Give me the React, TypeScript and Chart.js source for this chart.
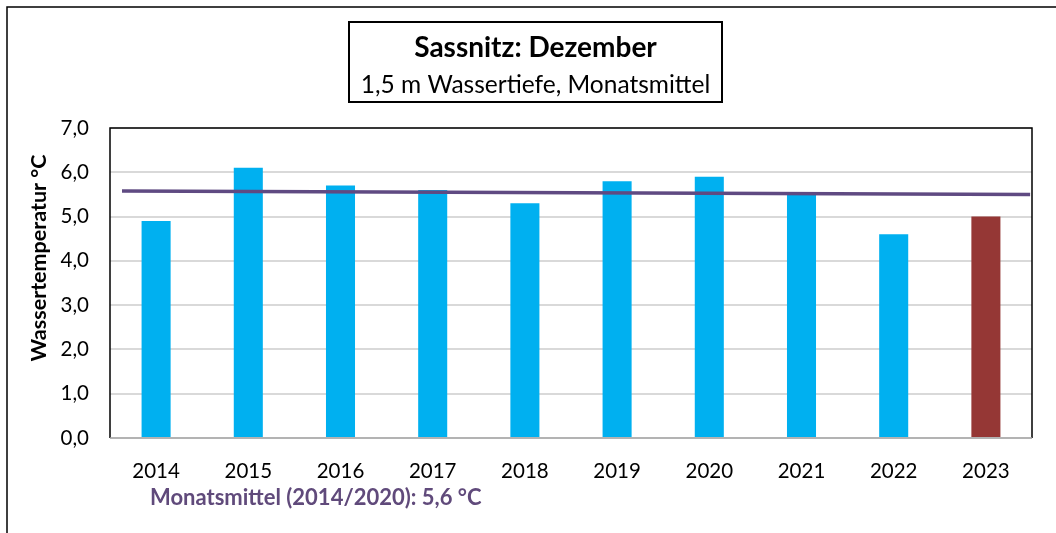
import React, { useEffect, useRef } from "react";
import { Chart, registerables } from "chart.js";

Chart.register(...registerables);

// ---- data ----
const years = ["2014", "2015", "2016", "2017", "2018", "2019", "2020", "2021", "2022", "2023"];
const temps = [4.9, 6.1, 5.7, 5.6, 5.3, 5.8, 5.9, 5.5, 4.6, 5.0];
const barColors = ["#00B0F0", "#00B0F0", "#00B0F0", "#00B0F0", "#00B0F0", "#00B0F0", "#00B0F0", "#00B0F0", "#00B0F0", "#953735"];
const trendX = [-0.37, 9.48];
const trendY = [5.58, 5.5];
const yMin = 0;
const yMax = 7;
const yStep = 1;
const titleText = "Sassnitz: Dezember";
const subtitleText = "1,5 m Wassertiefe, Monatsmittel";
const yAxisTitle = "Wassertemperatur °C";
const meanNote = "Monatsmittel (2014/2020): 5,6 °C";

const FONT = "Lato, 'Open Sans', sans-serif";

const decor = {
  id: "decor",
  beforeDraw(chart: any) {
    const ctx = chart.ctx;
    ctx.save();
    ctx.fillStyle = "#ffffff";
    ctx.fillRect(0, 0, chart.width, chart.height);
    ctx.restore();
  },
  afterDraw(chart: any) {
    const ctx = chart.ctx;
    const a = chart.chartArea;
    ctx.save();
    // outer frame
    ctx.strokeStyle = "#000";
    ctx.lineWidth = 1.5;
    ctx.strokeRect(7, 7, chart.width + 10, chart.height + 10);
    // plot border
    ctx.beginPath();
    ctx.moveTo(a.left, a.bottom);
    ctx.lineTo(a.left, a.top);
    ctx.lineTo(a.right, a.top);
    ctx.lineTo(a.right, a.bottom);
    ctx.stroke();
    ctx.strokeStyle = "#A6A6A6";
    ctx.beginPath();
    ctx.moveTo(a.left, a.bottom);
    ctx.lineTo(a.right, a.bottom);
    ctx.stroke();
    // title box
    ctx.fillStyle = "#fff";
    ctx.fillRect(349, 22, 373, 80);
    ctx.strokeStyle = "#000";
    ctx.lineWidth = 2;
    ctx.strokeRect(349, 22, 373, 80);
    ctx.fillStyle = "#000";
    ctx.textAlign = "center";
    ctx.textBaseline = "middle";
    ctx.font = `bold 28px ${FONT}`;
    ctx.fillText(titleText, 535.5, 48);
    ctx.font = `24.5px ${FONT}`;
    ctx.fillText(subtitleText, 535.5, 85);
    // y axis title
    ctx.save();
    ctx.translate(39, 258);
    ctx.rotate(-Math.PI / 2);
    ctx.font = `bold 21.5px ${FONT}`;
    ctx.fillText(yAxisTitle, 0, 0);
    ctx.restore();
    // mean note
    ctx.textAlign = "left";
    ctx.fillStyle = "#604A7B";
    ctx.font = `bold 22px ${FONT}`;
    ctx.fillText(meanNote, 150, 498);
    ctx.restore();
  },
};

export default function App() {
  const ref = useRef<HTMLCanvasElement>(null);
  useEffect(() => {
    if (!ref.current) return;
    const chart = new Chart(ref.current, {
      type: "bar",
      data: {
        datasets: [
          {
            type: "line",
            data: trendX.map((x, i) => ({ x, y: trendY[i] })) as any,
            borderColor: "#5F4A82",
            borderWidth: 3.5,
            pointRadius: 0,
            order: 0,
          } as any,
          {
            type: "bar",
            data: temps.map((y, i) => ({ x: i, y })) as any,
            backgroundColor: barColors,
            barPercentage: 0.315,
            categoryPercentage: 1,
            grouped: false,
            order: 1,
          } as any,
        ],
      },
      options: {
        animation: false,
        responsive: false,
        maintainAspectRatio: false,
        layout: { padding: { top: 128, right: 24, left: 0, bottom: 0 } },
        plugins: { legend: { display: false }, tooltip: { enabled: false }, title: { display: false } },
        scales: {
          x: {
            type: "linear",
            min: -0.5,
            max: 9.5,
            offset: false,
            grid: { display: false, drawTicks: false },
            border: { display: false },
            afterBuildTicks: (s: any) => {
              s.ticks = years.map((_, i) => ({ value: i }));
            },
            ticks: {
              color: "#000",
              font: { family: FONT, size: 20.5 },
              padding: 21,
              maxRotation: 0,
              autoSkip: false,
              callback: (v: any) => years[Math.round(Number(v))] ?? "",
            },
            afterFit: (s: any) => {
              s.height = 95;
            },
          },
          y: {
            min: yMin,
            max: yMax,
            border: { display: false },
            grid: { color: "#D9D9D9", lineWidth: 2, drawTicks: false },
            ticks: {
              stepSize: yStep,
              color: "#000",
              font: { family: FONT, size: 20.5 },
              padding: 21,
              callback: (v: any) => Number(v).toFixed(1).replace(".", ","),
            },
            afterFit: (s: any) => {
              s.width = 110;
            },
          },
        },
      } as any,
      plugins: [decor],
    });
    return () => chart.destroy();
  }, []);
  return (
    <div style={{ position: "fixed", left: 0, top: 0, width: 1056, height: 533 }}>
      <canvas ref={ref} width={1056} height={533} style={{ width: 1056, height: 533 }} />
    </div>
  );
}
